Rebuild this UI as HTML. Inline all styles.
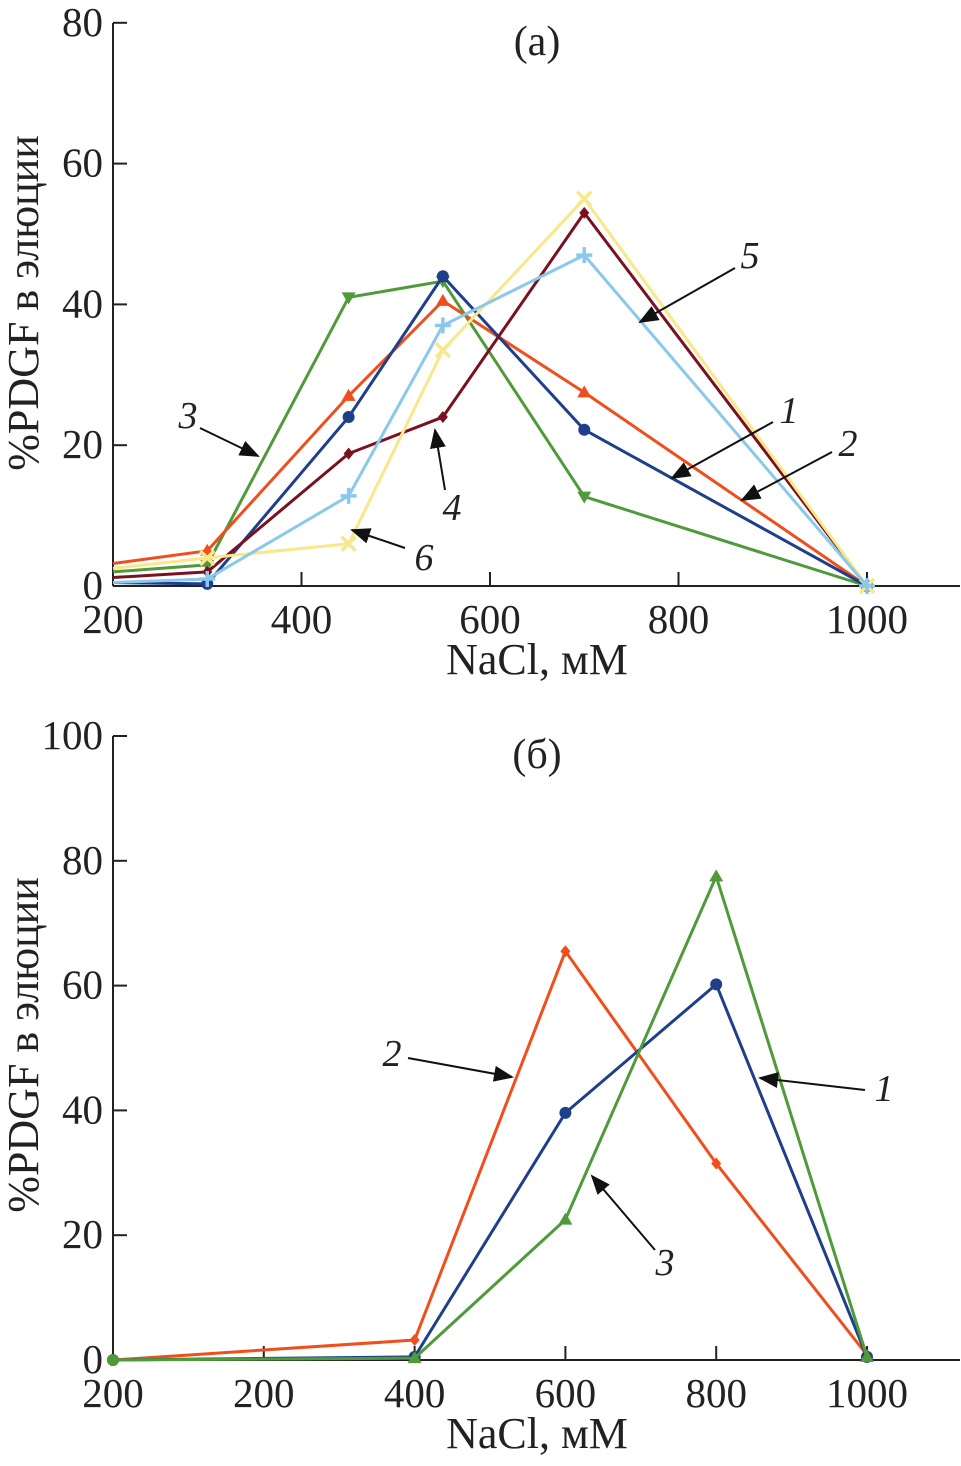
<!DOCTYPE html>
<html><head><meta charset="utf-8"><style>
body{margin:0;background:#fff}
text{font-family:"Liberation Serif",serif;fill:#222}
</style></head><body>
<svg id="svg" width="961" height="1461" xmlns="http://www.w3.org/2000/svg">
<defs><marker id="ah" markerWidth="10" markerHeight="8" refX="9" refY="4" orient="auto"><path d="M0,0 L10,4 L0,8 Z" fill="#111"/></marker></defs>
<g id="ga"></g>
<g id="gb"></g>
</svg>
<script>
const aX=[200,300,450,550,700,1000];
const a1=[0.5,0.3,24,44,22.2,0];
const a2=[3.2,5,27,40.5,27.5,0];
const a3=[2,3,41,43.3,12.7,0];
const a4=[1.2,2,18.8,24,53,0];
const a5=[0.5,1,12.8,37,47,0];
const a6=[2.5,4,6,33.5,55,0];
const aXTicks=[200,400,600,800,1000];
const aYTicks=[0,20,40,60,80];
const bCats=["200","200","400","600","800","1000"];
const b1=[0,0.5,39.6,60.2,0.5];
const b2=[0,3.2,65.5,31.5,0.8];
const b3=[0,0.3,22.5,77.5,0.5];
const bIdx=[0,2,3,4,5];
const bYTicks=[0,20,40,60,80,100];
const NS="http://www.w3.org/2000/svg";
function el(p,t,at,txt){const e=document.createElementNS(NS,t);for(const k in at)e.setAttribute(k,at[k]);if(txt!==undefined)e.textContent=txt;p.appendChild(e);return e;}
const C={navy:"#1f3f8a",orange:"#f04e1c",green:"#4f9a3a",dred:"#7a1020",lblue:"#8ac8ec",yel:"#f8e88a"};
function marker(g,type,x,y,c){let m;
 if(type=="circle")m=el(g,"circle",{cx:x,cy:y,r:6,fill:c});
 else if(type=="tri")m=el(g,"path",{d:`M${x},${y-7}L${x+7},${y+5}L${x-7},${y+5}Z`,fill:c});
 else if(type=="dtri")m=el(g,"path",{d:`M${x},${y+7}L${x+7},${y-5}L${x-7},${y-5}Z`,fill:c});
 else if(type=="diamond")m=el(g,"path",{d:`M${x},${y-6}L${x+5},${y}L${x},${y+6}L${x-5},${y}Z`,fill:c});
 else if(type=="plus")m=el(g,"path",{d:`M${x-8},${y}H${x+8}M${x},${y-8}V${y+8}`,stroke:c,"stroke-width":3.5});
 else m=el(g,"path",{d:`M${x-7},${y-7}L${x+7},${y+7}M${x+7},${y-7}L${x-7},${y+7}`,stroke:c,"stroke-width":3.5});
 
 }
function series(g,xs,ys,c,type,name){const pts=xs.map((x,i)=>x+","+ys[i]).join(" ");
 const l=el(g,"polyline",{points:pts,fill:"none",stroke:c,"stroke-width":3,"stroke-linejoin":"round"});
 
 
 xs.forEach((x,i)=>{if(i>0)marker(g,type,x,ys[i],c);});}
function arrow(g,x1,y1,x2,y2,lx,ly,t){const a=el(g,"line",{x1,y1,x2,y2,stroke:"#111","stroke-width":2,"marker-end":"url(#ah)"});
 
 
 const tx=el(g,"text",{x:lx,y:ly,"font-size":38,"font-style":"italic","text-anchor":"middle"},t);
 
 }
function axes(g,x0,x1,y0,y1,yTicks,ySc,xTickPos,xTickLab,title,ycenter){
 el(g,"line",{x1:x0,y1:y0,x2:x1,y2:y0,stroke:"#222","stroke-width":2});
 el(g,"line",{x1:x0,y1:y0,x2:x0,y2:y1,stroke:"#222","stroke-width":2});
 yTicks.forEach(v=>{const y=ySc(v);el(g,"line",{x1:x0,y1:y,x2:x0+14,y2:y,stroke:"#222","stroke-width":2});
  const t=el(g,"text",{x:x0-10,y:y+13,"font-size":41,"text-anchor":"end"},v);
  
  });
 xTickPos.forEach((x,i)=>{el(g,"line",{x1:x,y1:y0,x2:x,y2:y0-14,stroke:"#222","stroke-width":2});
  const t=el(g,"text",{x:x,y:y0+47,"font-size":41,"text-anchor":"middle"},xTickLab[i]);
  
  });
 const xt=el(g,"text",{x:537,y:y0+88,"font-size":44,"text-anchor":"middle"},"NaCl, мМ");
 
 
 const yt=el(g,"text",{x:0,y:0,"font-size":44,"text-anchor":"middle",transform:`translate(38,${ycenter}) rotate(-90)`},"%PDGF в элюции");
 
 
 const tt=el(g,"text",{x:537,y:y1+32,"font-size":42,"text-anchor":"middle"},title);
 
 }
// chart a
const ga=document.getElementById("ga");
const ax=v=>113+(v-200)*0.9425, ay=v=>586-v*7.04;
axes(ga,113,960,586,23,aYTicks,ay,aXTicks.map(ax),aXTicks,"(a)",303);
const axs=aX.map(ax);
series(ga,axs,a3.map(ay),C.green,"dtri","series-3");
series(ga,axs,a2.map(ay),C.orange,"tri","series-2");
series(ga,axs,a1.map(ay),C.navy,"circle","series-1");
series(ga,axs,a4.map(ay),C.dred,"diamond","series-4");
series(ga,axs,a6.map(ay),C.yel,"x","series-6");
series(ga,axs,a5.map(ay),C.lblue,"plus","series-5");
arrow(ga,200,428,258,456,188,428,"3");
arrow(ga,445,490,435,430,452,520,"4");
arrow(ga,405,548,352,530,424,570,"6");
arrow(ga,735,268,640,322,750,268,"5");
arrow(ga,773,422,672,478,789,423,"1");
arrow(ga,832,452,742,500,848,456,"2");
// chart b
const gb=document.getElementById("gb");
const bx=i=>113+i*150.8, by=v=>1360-v*6.24;
axes(gb,113,960,1360,736,bYTicks,by,bCats.map((c,i)=>bx(i)),bCats,"(б)",1045);
const bxs=bIdx.map(bx);
series(gb,bxs,b2.map(by),C.orange,"diamond","series-2");
series(gb,bxs,b1.map(by),C.navy,"circle","series-1");
series(gb,bxs,b3.map(by),C.green,"tri","series-3");
[b1,b2,b3].forEach((s,k)=>marker(gb,["circle","diamond","circle"][k],bxs[0],by(s[0]),[C.navy,C.orange,C.green][k]));
arrow(gb,408,1058,512,1077,392,1066,"2");
arrow(gb,865,1090,760,1078,884,1101,"1");
arrow(gb,655,1250,592,1176,665,1275,"3");
</script>
</body></html>
